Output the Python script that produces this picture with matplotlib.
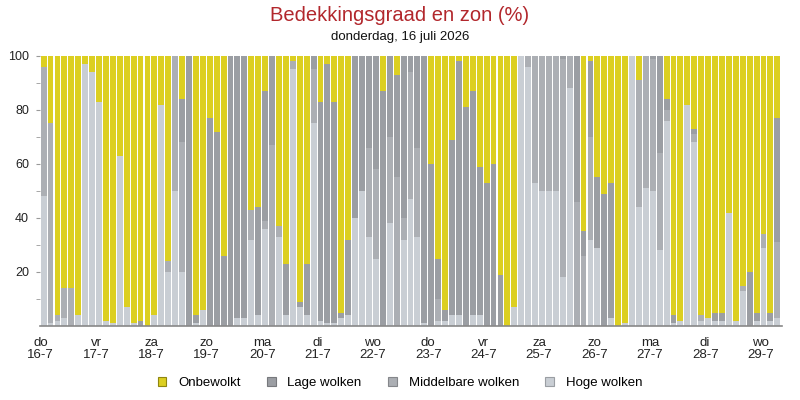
import matplotlib
matplotlib.use("Agg")
import matplotlib.pyplot as plt
from matplotlib.patches import Patch
import numpy as np

plt.rcParams['font.family'] = ['Liberation Sans', 'DejaVu Sans']

# 3-hourly values, 8 per day, starting do 16-7 00:00 (107 bars)
hoge = [48, 1, 2, 3, 0, 4, 97, 94, 83, 2, 1, 63, 7, 1, 0, 0,
        4, 82, 20, 50, 20, 0, 1, 6, 0, 0, 0, 0, 3, 3, 32, 4,
        36, 0, 33, 4, 95, 7, 4, 75, 2, 1, 1, 3, 4, 40, 50, 33,
        25, 0, 38, 0, 32, 47, 33, 1, 0, 2, 2, 4, 4, 0, 4, 4,
        0, 0, 0, 0, 7, 100, 96, 53, 50, 50, 50, 18, 88, 0, 0, 32,
        29, 0, 3, 0, 1, 100, 44, 51, 50, 28, 76, 1, 2, 82, 68, 2,
        3, 2, 2, 42, 2, 13, 0, 2, 29, 2, 3]
middel = [48, 74, 2, 11, 14, 0, 0, 0, 0, 0, 0, 0, 0, 0, 0, 0,
          0, 0, 4, 50, 48, 0, 0, 0, 0, 0, 0, 0, 0, 0, 11, 0,
          3, 67, 4, 0, 3, 0, 0, 20, 0, 0, 0, 0, 0, 0, 0, 33,
          33, 0, 32, 55, 8, 47, 33, 0, 0, 8, 0, 0, 0, 0, 0, 0,
          0, 0, 0, 0, 0, 0, 4, 47, 50, 50, 50, 81, 12, 46, 26, 38,
          0, 0, 0, 0, 0, 0, 47, 49, 49, 36, 4, 0, 0, 0, 3, 2,
          0, 0, 0, 0, 0, 2, 0, 0, 5, 0, 28]
laag = [0, 0, 0, 0, 0, 0, 0, 0, 0, 0, 0, 0, 0, 0, 2, 0,
        0, 0, 0, 0, 16, 100, 3, 0, 77, 72, 26, 100, 97, 97, 0, 40,
        48, 33, 0, 19, 0, 2, 19, 5, 81, 96, 82, 2, 28, 60, 50, 34,
        42, 87, 30, 38, 60, 6, 34, 99, 60, 15, 4, 65, 94, 81, 83, 55,
        53, 60, 19, 0, 0, 0, 0, 0, 0, 0, 0, 1, 0, 54, 9, 28,
        26, 49, 50, 0, 0, 0, 0, 0, 1, 36, 4, 3, 0, 0, 2, 0,
        0, 3, 3, 0, 0, 0, 20, 3, 0, 3, 46]
onbewolkt = [4, 25, 96, 86, 86, 96, 3, 6, 17, 98, 99, 37, 93, 99, 98, 100,
             96, 18, 76, 0, 16, 0, 96, 94, 23, 28, 74, 0, 0, 0, 57, 56,
             13, 0, 63, 77, 2, 91, 77, 0, 17, 3, 17, 95, 68, 0, 0, 0,
             0, 13, 0, 7, 0, 0, 0, 0, 40, 75, 94, 31, 2, 19, 13, 41,
             47, 40, 81, 100, 93, 0, 0, 0, 0, 0, 0, 0, 0, 0, 65, 2,
             45, 51, 47, 100, 99, 0, 9, 0, 0, 0, 16, 96, 98, 18, 27, 96,
             97, 95, 95, 58, 98, 85, 80, 95, 66, 95, 23]

day_names = ['do', 'vr', 'za', 'zo', 'ma', 'di', 'wo',
             'do', 'vr', 'za', 'zo', 'ma', 'di', 'wo']
day_dates = ['16-7', '17-7', '18-7', '19-7', '20-7', '21-7', '22-7',
             '23-7', '24-7', '25-7', '26-7', '27-7', '28-7', '29-7']
bars_per_day = 8

c_clear = '#dccf21'
c_low = '#9b9ea3'
c_mid = '#acafb4'
c_high = '#c9ced4'

fig = plt.figure(figsize=(8, 4), dpi=100)
ax = fig.add_axes([0.05, 0.185, 0.9275, 0.675])

x = np.arange(len(hoge))
h = np.array(hoge, float)
m = np.array(middel, float)
l = np.array(laag, float)
o = np.array(onbewolkt, float)
w = 0.85
ax.bar(x, h, width=w, align='edge', color=c_high, linewidth=0)
ax.bar(x, m, width=w, bottom=h, align='edge', color=c_mid, linewidth=0)
ax.bar(x, l, width=w, bottom=h + m, align='edge', color=c_low, linewidth=0)
ax.bar(x, o, width=w, bottom=h + m + l, align='edge', color=c_clear, linewidth=0)

ax.set_xlim(-0.1, len(hoge) + 0.1)
ax.set_ylim(0, 100)
for s in ['top', 'right', 'left']:
    ax.spines[s].set_visible(False)
ax.spines['bottom'].set_color('#888888')
ax.spines['bottom'].set_linewidth(1.2)

ax.set_yticks([20, 40, 60, 80, 100])
ax.set_yticks(np.arange(10, 101, 10), minor=True)
ax.tick_params(axis='y', which='both', length=3, color='#999999',
               labelsize=9, labelcolor='#222222', pad=5)

ticks = [i * bars_per_day for i in range(len(day_names))]
ax.set_xticks(ticks)
ax.set_xticklabels([f'{n}\n{d}' for n, d in zip(day_names, day_dates)],
                   fontsize=9.5, linespacing=0.95, color='#222222')
ax.tick_params(axis='x', length=0, pad=8)

fig.text(0.5, 0.962, 'Bedekkingsgraad en zon (%)', ha='center', va='center',
         fontsize=14.5, color='#b2272c')
fig.text(0.5, 0.908, 'donderdag, 16 juli 2026', ha='center', va='center',
         fontsize=9.5, color='#111111')

handles = [Patch(facecolor=c_clear, edgecolor='#8f8610', linewidth=0.8),
           Patch(facecolor=c_low, edgecolor='#77797d', linewidth=0.8),
           Patch(facecolor=c_mid, edgecolor='#85878b', linewidth=0.8),
           Patch(facecolor=c_high, edgecolor='#9a9ea3', linewidth=0.8)]
labels = ['Onbewolkt', 'Lage wolken', 'Middelbare wolken', 'Hoge wolken']
fig.legend(handles, labels, loc='center', bbox_to_anchor=(0.5, 0.043),
           ncol=4, frameon=False, fontsize=9.5, handlelength=0.65,
           handleheight=0.65, handletextpad=0.9, columnspacing=2.0)

fig.savefig('out.png', dpi=100)
